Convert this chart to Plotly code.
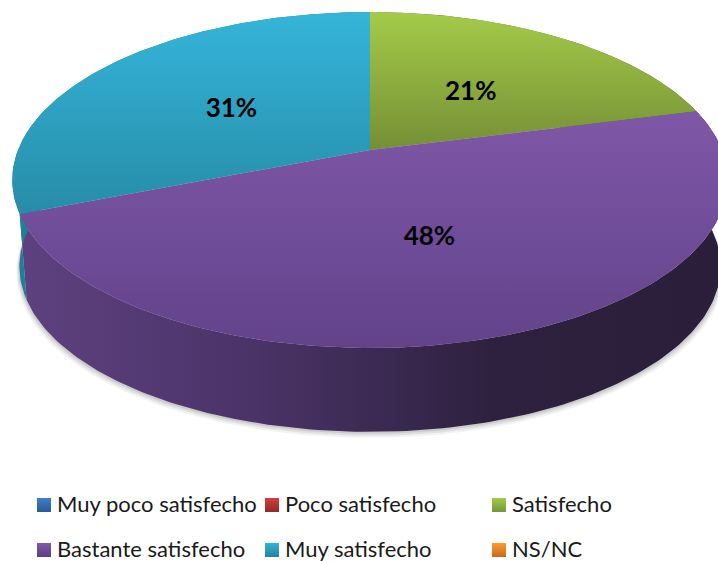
import numpy as np
import plotly.graph_objects as go

categories = ["Muy poco satisfecho", "Poco satisfecho", "Satisfecho",
              "Bastante satisfecho", "Muy satisfecho", "NS/NC"]
values = [0, 0, 21, 48, 31, 0]
legend_top = ["#3F7FC9", "#CF3F3C", "#A2CC4A", "#8058AC", "#33B4D8", "#FF9A33"]
legend_bottom = ["#2A5A94", "#96292A", "#76953A", "#5C3E80", "#22829E", "#C86A1A"]
top_grad = {"Satisfecho": ("#A4CB49", "#758F35"),
            "Bastante satisfecho": ("#7F57A8", "#62438A"),
            "Muy satisfecho": ("#35B5DA", "#268CA8")}
side_grad = {"Satisfecho": ("#5A7028", "#5A7028"),
             "Bastante satisfecho": ("#5E4180", "#4A3367", "#2E213F", "#2A1E3A"),
             "Muy satisfecho": ("#1F7F9B", "#1F7F9B")}

# projected disc geometry (screen pixels)
CX, CY, A, B, K = 370, 150, 352, 162.6, 0.1786
CY2, A2, B2 = 237, 345, 160
KEY_X = [44, 272, 499]
KEY_Y = [505, 550]
KEY_TEXT_DX = 13
KEY_TEXT_DY = 1
LABEL_DY = 4


def project(theta, r=1.0, cy=CY, a=A, b=B):
    t = np.radians(theta)
    u, v = r * np.sin(t), -r * np.cos(t)
    d = 1 - K * v
    return CX + a * u / d, cy + b * v / d


def grad(kind, stops):
    n = len(stops) - 1
    return dict(type=kind, colorscale=[[j / n, c] for j, c in enumerate(stops)])


fig = go.Figure()
total = sum(values)
wedges, start = [], 0.0
for name, val in zip(categories, values):
    sweep = 360 * val / total
    if val > 0:
        wedges.append((name, val, start, start + sweep))
    start += sweep

# soft shadow below the disc
theta_all = np.linspace(0, 360, 361)
for off, alpha in [(6, 0.05), (4, 0.07), (2, 0.09)]:
    sx, sy = project(theta_all, cy=CY2 + off, a=A2 + off / 2, b=B2)
    fig.add_trace(go.Scatter(x=sx, y=sy, mode="lines", line=dict(width=0), fill="toself",
                             fillcolor=f"rgba(0,0,0,{alpha})", showlegend=False, hoverinfo="skip"))

# side walls
for name, val, a0, a1 in wedges:
    th = np.linspace(a0, a1, max(int(a1 - a0), 2) + 1)
    x1, y1 = project(th)
    x2, y2 = project(th, cy=CY2, a=A2, b=B2)
    fig.add_trace(go.Scatter(x=np.r_[x1, x2[::-1]], y=np.r_[y1, y2[::-1]], mode="lines",
                             line=dict(width=0), fill="toself",
                             fillgradient=grad("horizontal", side_grad[name]),
                             showlegend=False, hoverinfo="skip"))

# top faces (axis is reversed, so the colour pair runs bottom to top)
for name, val, a0, a1 in wedges:
    th = np.linspace(a0, a1, max(int(a1 - a0), 2) + 1)
    x1, y1 = project(th)
    fig.add_trace(go.Scatter(x=np.r_[CX, x1, CX], y=np.r_[CY, y1, CY], mode="lines",
                             line=dict(width=0), fill="toself",
                             fillgradient=grad("vertical", top_grad[name][::-1]),
                             showlegend=False, hoverinfo="skip"))

# data labels
for name, val, a0, a1 in wedges:
    lx, ly = project((a0 + a1) / 2, r=0.5)
    fig.add_trace(go.Scatter(x=[lx], y=[ly + LABEL_DY], mode="text", text=[f"{val}%"],
                             textposition="middle center",
                             textfont=dict(family="Lato", size=26, color="#000000", weight="bold"),
                             showlegend=False, hoverinfo="skip"))

# colour key: three columns, two rows
for i, name in enumerate(categories):
    kx, ky = KEY_X[i % 3], KEY_Y[i // 3]
    fig.add_trace(go.Scatter(x=[kx], y=[ky], mode="markers", name=name,
                             marker=dict(symbol="square", size=14, color=legend_top[i], line=dict(width=0),
                                         gradient=dict(type="vertical", color=legend_bottom[i])),
                             showlegend=False, hoverinfo="skip"))
    fig.add_trace(go.Scatter(x=[kx + KEY_TEXT_DX], y=[ky + KEY_TEXT_DY], mode="text", text=[name],
                             textposition="middle right",
                             textfont=dict(family="Lato", size=22, color="#1a1a1a"),
                             showlegend=False, hoverinfo="skip"))

fig.update_layout(
    width=718, height=561, autosize=False,
    margin=dict(l=0, r=0, t=0, b=0, autoexpand=False),
    paper_bgcolor="white", plot_bgcolor="white",
    xaxis=dict(range=[0, 718], visible=False, fixedrange=True),
    yaxis=dict(range=[561, 0], visible=False, fixedrange=True),
)
fig.write_html("out.html", config=dict(displayModeBar=False),
               post_script="document.body.style.margin='0';")
